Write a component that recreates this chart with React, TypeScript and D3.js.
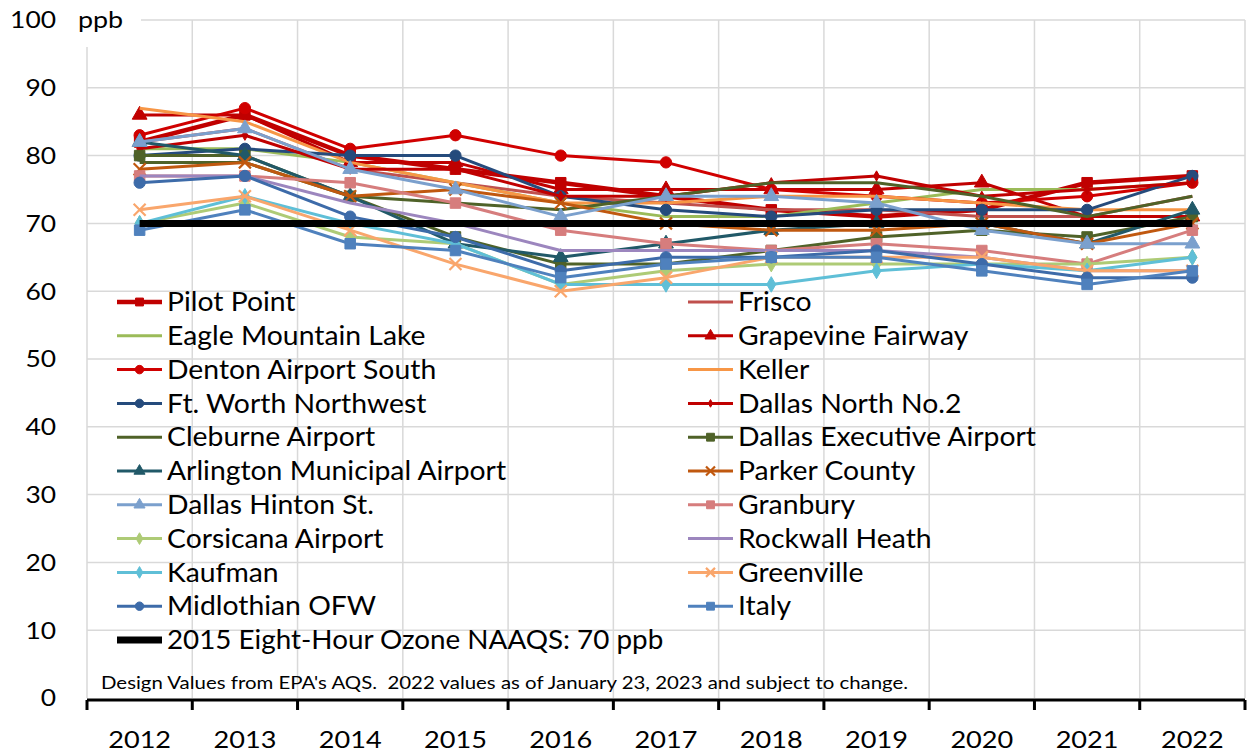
import { scaleBand, scaleLinear, line, symbol, symbolSquare, symbolCircle, symbolTriangle, symbolDiamond } from 'd3'

const width = 1249
const height = 754

const margin = { top: 20, right: 4, bottom: 56, left: 87 }

const years = ['2012', '2013', '2014', '2015', '2016', '2017', '2018', '2019', '2020', '2021', '2022']
const yTicks = [0, 10, 20, 30, 40, 50, 60, 70, 80, 90, 100]

const siteNames = [
  'Pilot Point', 'Frisco', 'Eagle Mountain Lake', 'Grapevine Fairway', 'Denton Airport South',
  'Keller', 'Ft. Worth Northwest', 'Dallas North No.2', 'Cleburne Airport', 'Dallas Executive Airport',
  'Arlington Municipal Airport', 'Parker County', 'Dallas Hinton St.', 'Granbury', 'Corsicana Airport',
  'Rockwall Heath', 'Kaufman', 'Greenville', 'Midlothian OFW', 'Italy',
]

const pilotPoint = [82, 86, 80, 78, 76, 74, 72, 71, 72, 76, 77]
const frisco = [82, 84, 78, 76, 74, 73, 72, 72, 71, 71, 74]
const eagleMountainLake = [81, 81, 79, 76, 73, 71, 71, 73, 75, 75, 76]
const grapevineFairway = [86, 86, 79, 79, 75, 75, 75, 75, 76, 71, 71]
const dentonAirportSouth = [83, 87, 81, 83, 80, 79, 75, 74, 73, 74, 76]
const keller = [87, 85, 79, 76, 73, 73, 74, 74, 73, 72, 72]
const ftWorthNorthwest = [80, 81, 80, 80, 74, 72, 71, 72, 72, 72, 77]
const dallasNorth = [81, 83, 78, 78, 74, 74, 76, 77, 74, 75, 76]
const cleburneAirport = [79, 79, 74, 73, 72, 74, 76, 76, 74, 71, 74]
const dallasExecutive = [80, 80, 74, 68, 64, 64, 66, 68, 69, 68, 71]
const arlington = [82, 80, 74, 67, 65, 67, 69, 70, 70, 67, 72]
const parkerCounty = [78, 79, 74, 75, 73, 70, 69, 69, 70, 67, 70]
const dallasHinton = [82, 84, 78, 75, 71, 74, 74, 73, 69, 67, 67]
const granbury = [77, 77, 76, 73, 69, 67, 66, 67, 66, 64, 69]
const corsicanaAirport = [70, 73, 68, 67, 61, 63, 64, 64, 64, 64, 65]
const rockwallHeath = [77, 77, 73, 70, 66, 66, 66, 66, 65, 63, 63]
const kaufman = [70, 74, 70, 67, 61, 61, 61, 63, 64, 63, 65]
const greenville = [72, 74, 69, 64, 60, 62, 65, 65, 65, 63, 63]
const midlothian = [76, 77, 71, 68, 63, 65, 65, 66, 64, 62, 62]
const italy = [69, 72, 67, 66, 62, 64, 65, 65, 63, 61, 63]

const naaqs = 70

const seriesValues = [
  pilotPoint, frisco, eagleMountainLake, grapevineFairway, dentonAirportSouth,
  keller, ftWorthNorthwest, dallasNorth, cleburneAirport, dallasExecutive,
  arlington, parkerCounty, dallasHinton, granbury, corsicanaAirport,
  rockwallHeath, kaufman, greenville, midlothian, italy,
]

const colors = [
  '#c00000', '#c0504d', '#9bbb59', '#c00000', '#d00000',
  '#f79646', '#254b7c', '#c00000', '#4f6228', '#4f6228',
  '#215968', '#c0580f', '#7ba0cd', '#d67d7d', '#aecb76',
  '#9c86be', '#5fbfd7', '#f9a66c', '#3d6ba9', '#4f81bd',
]

const markers = [
  'square', 'none', 'none', 'triangle', 'circle',
  'none', 'circle', 'smalldiamond', 'none', 'square',
  'triangle', 'x', 'triangle', 'square', 'diamond',
  'none', 'diamond', 'x', 'circle', 'square',
]

const font = 'Lato, "Open Sans", sans-serif'

// text stretched a bit horizontally, the reference glyphs are wider than Lato
function SText({ x, y, sx = 1.1, size, anchor = 'start', children }) {
  return (
    <text
      transform={`translate(${x},${y}) scale(${sx},1)`}
      dy="0.35em"
      textAnchor={anchor}
      fontSize={size}
      fill="#000"
      style={{ whiteSpace: 'pre' }}
    >
      {children}
    </text>
  )
}

function Marker({ type, x, y, color, scale = 1 }) {
  if (type === 'none') return null
  if (type === 'x') {
    const s = 6 * scale
    return (
      <path
        d={`M${x - s},${y - s}L${x + s},${y + s}M${x - s},${y + s}L${x + s},${y - s}`}
        stroke={color}
        strokeWidth={2.2}
        fill="none"
      />
    )
  }
  const shapes = {
    square: [symbolSquare, 110],
    circle: [symbolCircle, 100],
    triangle: [symbolTriangle, 95],
    diamond: [symbolDiamond, 70],
    smalldiamond: [symbolDiamond, 30],
  }
  const [sym, size] = shapes[type]
  const d = symbol(sym, size * scale * scale)()
  return <path d={d} transform={`translate(${x},${y})`} fill={color} stroke={color} strokeWidth={1} />
}

function App() {
  const innerRight = width - margin.right
  const xScale = scaleBand().domain(years).range([margin.left, innerRight])
  const yScale = scaleLinear().domain([0, 100]).range([698, margin.top])

  const xc = (year) => xScale(year) + xScale.bandwidth() / 2

  const lineGen = line()
    .x((d, i) => xc(years[i]))
    .y((d) => yScale(d))

  const boundaries = years.map((y) => xScale(y)).concat([innerRight])

  const legendRow = 33.8
  const legendTop = 302

  return (
    <svg width={width} height={height} style={{ position: 'absolute', left: 0, top: 0 }} fontFamily={font}>
      <rect width={width} height={height} fill="white" />

      {/* grid */}
      {yTicks.filter((t) => t > 0).map((t) => (
        <line key={t} x1={margin.left} x2={innerRight} y1={yScale(t)} y2={yScale(t)} stroke="#d9d9d9" strokeWidth={1.5} />
      ))}
      {boundaries.map((bx, i) => (
        <line key={i} x1={bx} x2={bx} y1={yScale(100)} y2={yScale(0)} stroke="#d9d9d9" strokeWidth={1.5} />
      ))}

      {/* unit label box */}
      <rect x={0} y={0} width={141} height={47} fill="white" />

      {/* y labels */}
      {yTicks.map((t) => (
        <SText key={t} x={56} y={yScale(t)} size={24} anchor="end" sx={1.1}>
          {t}
        </SText>
      ))}
      <SText x={78} y={yScale(100)} size={24} sx={1.12}>ppb</SText>

      {/* series */}
      {seriesValues.map((vals, si) => (
        <g key={si}>
          <path
            d={lineGen(vals)}
            fill="none"
            stroke={colors[si]}
            strokeWidth={si === 0 ? 4.5 : 3}
            strokeLinejoin="round"
          />
          {vals.map((v, i) => (
            <Marker key={i} type={markers[si]} x={xc(years[i])} y={yScale(v)} color={colors[si]} />
          ))}
        </g>
      ))}

      {/* NAAQS line */}
      <line
        x1={xc(years[0])}
        x2={xc(years[years.length - 1])}
        y1={yScale(naaqs)}
        y2={yScale(naaqs)}
        stroke="#000"
        strokeWidth={7}
      />

      {/* x axis */}
      <line x1={margin.left} x2={innerRight} y1={yScale(0) + 2} y2={yScale(0) + 2} stroke="#000" strokeWidth={3} />
      {boundaries.map((bx, i) => (
        <line key={i} x1={bx} x2={bx} y1={yScale(0) + 2} y2={yScale(0) + 12} stroke="#000" strokeWidth={3} />
      ))}
      {years.map((yr) => (
        <SText key={yr} x={xc(yr)} y={740} size={24} anchor="middle" sx={1.13}>
          {yr}
        </SText>
      ))}

      {/* legend */}
      {siteNames.map((name, i) => {
        const col = i % 2
        const row = Math.floor(i / 2)
        const lx = col === 0 ? 117 : 688
        const ly = legendTop + row * legendRow
        return (
          <g key={name}>
            <line x1={lx} x2={lx + 45} y1={ly} y2={ly} stroke={colors[i]} strokeWidth={i === 0 ? 4.5 : 3} />
            <Marker type={markers[i]} x={lx + 22.5} y={ly} color={colors[i]} scale={0.75} />
            <SText x={lx + 50} y={ly} size={26} sx={1.09}>
              {name}
            </SText>
          </g>
        )
      })}
      <line x1={117} x2={162} y1={legendTop + 10 * legendRow} y2={legendTop + 10 * legendRow} stroke="#000" strokeWidth={7} />
      <SText x={167} y={legendTop + 10 * legendRow} size={26} sx={1.07}>
        2015 Eight-Hour Ozone NAAQS: 70 ppb
      </SText>

      <SText x={101} y={683} size={17} sx={1.2}>
        Design Values from EPA's AQS.  2022 values as of January 23, 2023 and subject to change.
      </SText>
    </svg>
  )
}

export default App
